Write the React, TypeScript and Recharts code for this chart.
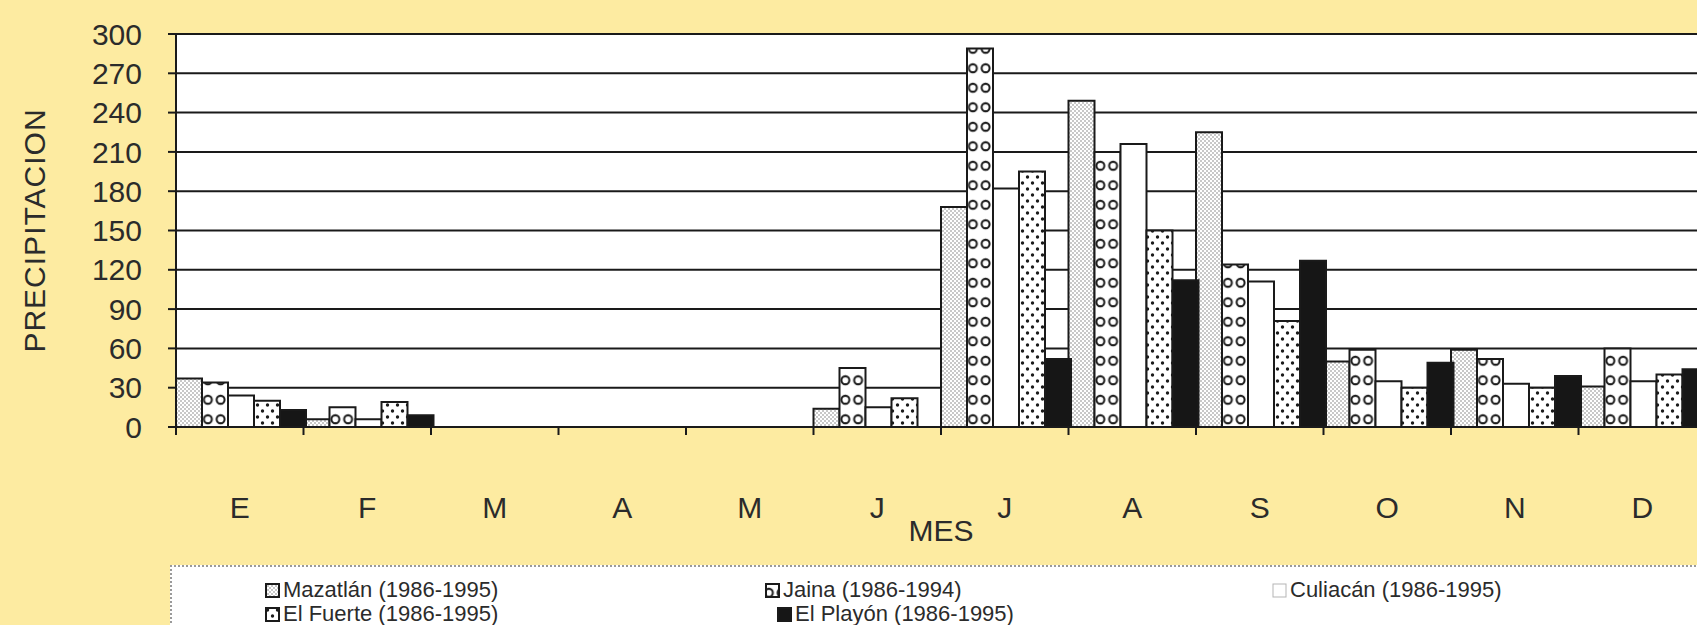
import React from 'react'
import { Bar, BarChart, CartesianGrid, XAxis, YAxis } from 'recharts'

const MONTHS = ['E', 'F', 'M', 'A', 'M', 'J', 'J', 'A', 'S', 'O', 'N', 'D'];
const MAZATLAN = [37, 6, 0, 0, 0, 14, 168, 249, 225, 50, 59, 31];
const JAINA = [34, 15, 0, 0, 0, 45, 289, 210, 124, 59, 52, 60];
const CULIACAN = [24, 6, 0, 0, 0, 15, 182, 216, 111, 35, 33, 35];
const EL_FUERTE = [20, 19, 0, 0, 0, 22, 195, 150, 81, 30, 30, 40];
const EL_PLAYON = [13, 9, 0, 0, 0, 0, 52, 112, 127, 49, 39, 44];
const Y_TICKS = [0, 30, 60, 90, 120, 150, 180, 210, 240, 270, 300];

const SERIES = [
    { key: 'mazatlan', name: 'Mazatlán (1986-1995)', values: MAZATLAN, fill: 'url(#pat-maz)' },
    { key: 'jaina', name: 'Jaina (1986-1994)', values: JAINA, fill: 'url(#pat-jaina)' },
    { key: 'culiacan', name: 'Culiacán (1986-1995)', values: CULIACAN, fill: '#ffffff' },
    { key: 'fuerte', name: 'El Fuerte (1986-1995)', values: EL_FUERTE, fill: 'url(#pat-fuerte)' },
    { key: 'playon', name: 'El Playón (1986-1995)', values: EL_PLAYON, fill: '#161616' },
];

const data = MONTHS.map((mes, i) => {
    const row: Record<string, any> = { mes };
    SERIES.forEach(s => { row[s.key] = s.values[i] });
    return row;
});

const FONT = '"Liberation Sans", Arial, Helvetica, sans-serif';
const INK = '#1a1a1a';
const TEXT = '#2b2b2b';
const BG = '#fdeba1';

// plot geometry
const Y_AXIS_W = 176;
const PLOT_W = 1530;
const BAND = PLOT_W / MONTHS.length;

const MonthTick = (props: any) => {
    const { x, y, payload } = props;
    return (
        <g>
            <line x1={x - BAND / 2} x2={x - BAND / 2} y1={y} y2={y + 8} stroke={INK} strokeWidth={2} />
            <text x={x} y={y + 91} textAnchor="middle" fontSize={30} fill={TEXT} fontFamily={FONT}>{payload.value}</text>
        </g>
    )
}

const YTitle = ({ viewBox }: any) => {
    const cy = viewBox.y + viewBox.height / 2;
    return (
        <text x={34} y={cy} transform={`rotate(-90, 34, ${cy})`} textAnchor="middle" dominantBaseline="central"
            fontSize={30} letterSpacing={1} fill={TEXT} fontFamily={FONT}>PRECIPITACION</text>
    )
}

const XTitle = ({ viewBox }: any) => (
    <text x={viewBox.x + viewBox.width / 2} y={viewBox.y + 114} textAnchor="middle" fontSize={30} fill={TEXT} fontFamily={FONT}>MES</text>
)

const LegendBox = () => (
    <div style={{
        position: 'absolute', left: 170, top: 565, width: 1560, height: 100, background: '#fff',
        borderTop: '2px dotted #9a9a9a', borderLeft: '2px dotted #9a9a9a',
        fontFamily: FONT, fontSize: 22, color: TEXT
    }}>
        <div style={{ display: 'grid', gridTemplateColumns: '500px 507px 400px', paddingLeft: 93, paddingTop: 11, lineHeight: '24px' }}>
            {SERIES.map((s, i) => (
                <div key={s.key} style={{ display: 'flex', alignItems: 'center', gap: 3, marginLeft: i === 4 ? 12 : 0 }}>
                    <svg width={15} height={15}>
                        <rect x={1} y={1} width={13} height={13} fill={s.fill}
                            stroke={s.key === 'culiacan' ? '#b5b5b5' : INK} strokeWidth={s.key === 'culiacan' ? 1 : 2} />
                    </svg>
                    <span>{s.name}</span>
                </div>
            ))}
        </div>
    </div>
)

const App: React.FC = () => {
    return (
        <div style={{ position: 'fixed', left: 0, top: 0, width: 1697, height: 625, overflow: 'hidden', background: BG }}>
            <div style={{ position: 'absolute', left: 0, top: 0 }}>
                <BarChart
                    width={Y_AXIS_W + PLOT_W + 10}
                    height={625}
                    data={data}
                    barCategoryGap={0}
                    barGap={0}
                    margin={{ top: 34, right: 10, left: 0, bottom: 108 }}
                >
                    <defs>
                        <pattern id="pat-maz" patternUnits="userSpaceOnUse" width={4} height={4}>
                            <rect width={4} height={4} fill="#fff" />
                            <circle cx={1} cy={1} r={0.75} fill="#777" />
                            <circle cx={3} cy={3} r={0.75} fill="#777" />
                        </pattern>
                        <pattern id="pat-jaina" patternUnits="userSpaceOnUse" x={Y_AXIS_W + BAND / 5} y={0} width={BAND / 10} height={19.5}>
                            <rect width={BAND / 10} height={19.5} fill="#fff" />
                            <circle cx={BAND / 20} cy={9.75} r={4} fill="#fff" stroke={INK} strokeWidth={2} />
                        </pattern>
                        <pattern id="pat-fuerte" patternUnits="userSpaceOnUse" width={10} height={12}>
                            <rect width={10} height={12} fill="#fff" />
                            <circle cx={2.5} cy={3} r={1.7} fill={INK} />
                            <circle cx={7.5} cy={9} r={1.7} fill={INK} />
                        </pattern>
                    </defs>
                    <CartesianGrid vertical={false} stroke={INK} strokeWidth={2} fill="#fff" fillOpacity={1} />
                    <XAxis
                        dataKey="mes"
                        height={90}
                        interval={0}
                        tickSize={0}
                        tickMargin={0}
                        tickLine={false}
                        axisLine={{ stroke: INK, strokeWidth: 2 }}
                        tick={(p: any) => <MonthTick {...p} />}
                        label={{ content: (p: any) => <XTitle {...p} /> }}
                    />
                    <YAxis
                        width={Y_AXIS_W}
                        domain={[0, 300]}
                        ticks={Y_TICKS}
                        interval={0}
                        tickSize={8}
                        tickMargin={26}
                        tickLine={{ stroke: INK, strokeWidth: 2 }}
                        axisLine={{ stroke: INK, strokeWidth: 2 }}
                        tick={{ fill: TEXT, fontSize: 30, fontFamily: FONT }}
                        label={{ content: (p: any) => <YTitle {...p} /> }}
                    />
                    {SERIES.map(s => (
                        <Bar
                            key={s.key}
                            dataKey={s.key}
                            name={s.name}
                            fill={s.fill}
                            stroke={INK}
                            strokeWidth={2}
                            isAnimationActive={false}
                        />
                    ))}
                </BarChart>
            </div>
            <LegendBox />
        </div>
    )
}

export default App
